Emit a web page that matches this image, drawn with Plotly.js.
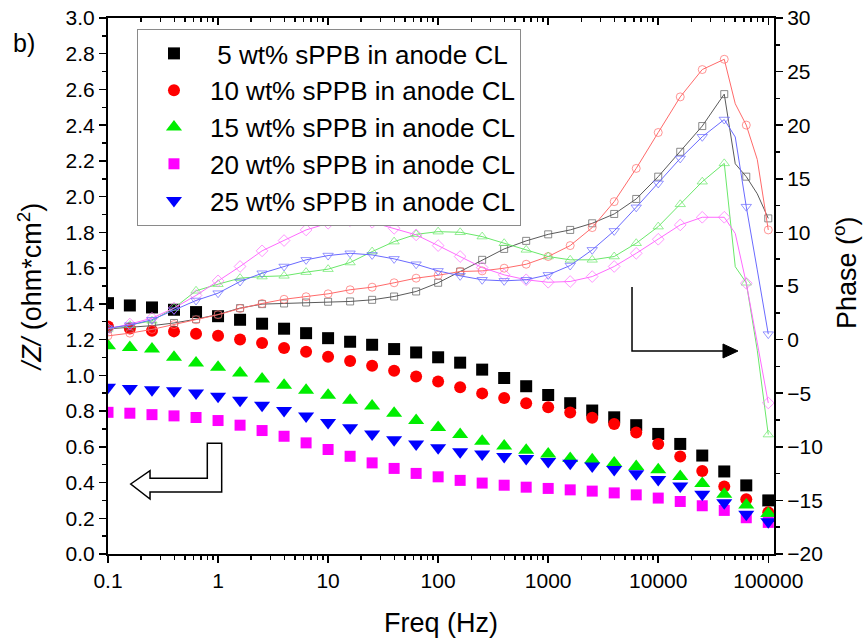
<!DOCTYPE html>
<html>
<head>
<meta charset="utf-8">
<script src="https://cdn.plot.ly/plotly-3.0.1.min.js"></script>
<style>html,body{margin:0;padding:0;background:#fff;}#chart{width:865px;height:640px;}</style>
</head>
<body>
<div id="chart"></div>
<script>
// Frequencies (Hz) with markers
const freq = [0.1, 0.158, 0.251, 0.398, 0.631, 1, 1.585, 2.512, 3.981, 6.31, 10, 15.85, 25.12, 39.81, 63.1, 100,
  158.5, 251.2, 398.1, 631, 1000, 1585, 2512, 3981, 6310, 10000, 15849, 25119, 39811, 63096, 100000];
// Phase data also has unmarked points at 50119 and 79433 Hz
const phaseFreq = [0.1, 0.158, 0.251, 0.398, 0.631, 1, 1.585, 2.512, 3.981, 6.31, 10, 15.85, 25.12, 39.81, 63.1, 100,
  158.5, 251.2, 398.1, 631, 1000, 1585, 2512, 3981, 6310, 10000, 15849, 25119, 39811, 50119, 63096, 79433, 100000];

const seriesNames = [
  "\u00a05 wt% sPPB in anode CL",
  "10 wt% sPPB in anode CL",
  "15 wt% sPPB in anode CL",
  "20 wt% sPPB in anode CL",
  "25 wt% sPPB in anode CL"
];

// |Z| (ohm*cm2)
const z5  = [1.404,1.391,1.380,1.367,1.354,1.331,1.311,1.289,1.261,1.236,1.208,1.188,1.171,1.147,1.128,1.101,
  1.071,1.032,0.985,0.939,0.890,0.844,0.803,0.765,0.721,0.672,0.616,0.551,0.462,0.384,0.300];
const z10 = [1.274,1.262,1.250,1.246,1.233,1.222,1.201,1.181,1.153,1.132,1.104,1.080,1.054,1.026,0.993,0.965,
  0.933,0.899,0.873,0.844,0.821,0.792,0.762,0.728,0.680,0.616,0.546,0.464,0.378,0.306,0.233];
const z15 = [1.166,1.156,1.147,1.101,1.069,1.045,1.013,0.979,0.944,0.916,0.888,0.860,0.829,0.788,0.747,0.708,
  0.669,0.631,0.605,0.581,0.560,0.535,0.527,0.510,0.490,0.471,0.434,0.395,0.334,0.274,0.227];
const z20 = [0.793,0.788,0.780,0.773,0.764,0.747,0.721,0.691,0.659,0.622,0.585,0.547,0.510,0.479,0.451,0.432,
  0.412,0.397,0.385,0.374,0.367,0.359,0.352,0.342,0.331,0.313,0.294,0.270,0.244,0.203,0.177];
const z25 = [0.933,0.926,0.920,0.914,0.901,0.883,0.860,0.832,0.803,0.773,0.736,0.706,0.672,0.639,0.616,0.594,
  0.572,0.560,0.546,0.535,0.518,0.508,0.492,0.473,0.449,0.417,0.380,0.334,0.287,0.222,0.181];

// Phase (deg)
const p5  = [1.0,1.15,1.3,1.55,1.9,2.35,2.94,3.31,3.37,3.46,3.53,3.56,3.71,4.02,4.49,5.3,
  6.35,7.44,8.46,9.21,9.82,10.23,10.85,11.72,13.12,15.20,17.52,19.92,22.90,16.4,15.20,13.6,11.31];
const p10 = [0.35,0.6,0.95,1.4,1.85,2.32,2.9,3.37,3.76,4.0,4.27,4.65,4.89,5.3,5.73,6.0,
  6.35,6.41,6.66,7.03,7.75,8.77,10.45,12.87,15.97,19.32,22.64,25.19,26.15,22.0,20.01,16.8,10.23];
const p15 = [1.0,1.35,1.75,2.94,4.55,5.17,5.73,5.88,5.95,6.29,6.57,7.19,8.21,9.14,9.82,10.07,
  10.01,9.61,8.99,8.37,7.75,7.44,7.44,7.75,8.99,10.54,12.62,14.73,16.44,6.8,5.3,-1.0,-8.86];
const p20 = [1.0,1.45,2.0,2.94,4.12,5.48,6.82,8.28,9.24,10.23,10.85,11.10,10.94,10.38,9.77,8.77,
  7.75,6.72,6.04,5.58,5.35,5.42,5.88,6.82,8.05,9.36,10.70,11.41,11.41,9.9,5.26,-0.3,-5.91];
const p25 = [1.07,1.35,1.85,2.75,3.65,4.33,5.42,6.19,6.82,7.44,7.84,8.05,7.90,7.53,7.03,6.41,
  5.95,5.58,5.48,5.58,6.04,6.91,8.37,10.14,12.34,14.57,16.90,18.92,20.53,18.9,12.40,6.5,0.51];

const zSeries = [z5, z10, z15, z20, z25];
const pSeries = [p5, p10, p15, p20, p25];
const fillColors = ["#000000", "#ff0000", "#00ee00", "#ff00ff", "#0000ff"];
const lineColors = ["#5a5a5a", "#ff6a6a", "#6ae86a", "#ff6aff", "#6a6aff"];
const fillSymbols = ["square", "circle", "triangle-up", "square", "triangle-down"];
const fillSizes = [12, 12, 14, 11, 14];
const openSymbols = ["square-open", "circle-open", "triangle-up-open", "diamond-open", "triangle-down-open"];
const openSizes = [7, 8, 9, 9, 9];

const traces = [];
for (let i = 0; i < 5; i++) {
  traces.push({
    x: freq, y: zSeries[i], type: "scatter", mode: "markers", name: seriesNames[i],
    xaxis: "x", yaxis: "y",
    marker: {symbol: fillSymbols[i], size: fillSizes[i], color: fillColors[i], line: {width: 0}}
  });
}
for (let i = 0; i < 5; i++) {
  const sizes = phaseFreq.map(f => freq.includes(f) ? openSizes[i] : 0);
  traces.push({
    x: phaseFreq, y: pSeries[i], type: "scatter", mode: "lines+markers", showlegend: false,
    xaxis: "x2", yaxis: "y2",
    line: {color: lineColors[i], width: 1},
    marker: {symbol: openSymbols[i], size: sizes, color: lineColors[i], line: {width: 1, color: lineColors[i]}}
  });
}

const minorX = [];
for (let d = -1; d <= 4; d++) for (let k = 2; k <= 9; k++) minorX.push(k * Math.pow(10, d));
const majorX = [0.1, 1, 10, 100, 1000, 10000, 100000];
const majorXText = ["0.1", "1", "10", "100", "1000", "10000", "100000"];

const fontFam = "Liberation Sans, Arial, sans-serif";
const xRange = [-1, 5.052];

const layout = {
  width: 865, height: 640,
  margin: {l: 108, r: 91, t: 18, b: 86},
  paper_bgcolor: "#fff", plot_bgcolor: "#fff",
  font: {family: fontFam, color: "#000", size: 21},
  showlegend: true,
  legend: {
    x: 0.0435, y: 0.9795, xanchor: "left", yanchor: "top",
    bordercolor: "#8a8a8a", borderwidth: 1, bgcolor: "#fff",
    font: {size: 26, family: fontFam, color: "#000"},
    itemwidth: 62, tracegroupgap: 0
  },
  xaxis: {
    type: "log", range: xRange, showgrid: false, zeroline: false,
    showline: true, linewidth: 2, linecolor: "#000",
    ticks: "outside", ticklen: 7, tickwidth: 1.5, tickcolor: "#000",
    tickmode: "array", tickvals: majorX, ticktext: majorXText,
    tickfont: {size: 21},
    minor: {tickmode: "array", tickvals: minorX, ticks: "outside", ticklen: 4, tickwidth: 1.5, tickcolor: "#000", showgrid: false},
    title: {text: "Freq (Hz)", font: {size: 27}, standoff: 22},
    automargin: false
  },
  xaxis2: {
    type: "log", range: xRange, matches: "x", overlaying: "x", side: "top", anchor: "y2",
    showgrid: false, zeroline: false, showline: true, linewidth: 2, linecolor: "#000",
    ticks: "inside", ticklen: 7, tickwidth: 1.5, tickcolor: "#000",
    tickmode: "array", tickvals: majorX, showticklabels: false,
    minor: {tickmode: "array", tickvals: minorX, ticks: "inside", ticklen: 4, tickwidth: 1.5, tickcolor: "#000", showgrid: false},
    automargin: false
  },
  yaxis: {
    range: [0, 3], showgrid: false, zeroline: false,
    showline: true, linewidth: 2, linecolor: "#000",
    ticks: "outside", ticklen: 7, tickwidth: 1.5, tickcolor: "#000",
    dtick: 0.2, tick0: 0, tickformat: ".1f", tickfont: {size: 21},
    minor: {dtick: 0.1, ticks: "outside", ticklen: 4, tickwidth: 1.5, tickcolor: "#000", showgrid: false},
    title: {text: "<i>/Z/</i> (ohm*cm<sup>2</sup>)", font: {size: 27}, standoff: 16},
    automargin: false
  },
  yaxis2: {
    range: [-20, 30], overlaying: "y", side: "right", anchor: "x2",
    showgrid: false, zeroline: false,
    showline: true, linewidth: 2, linecolor: "#000",
    ticks: "outside", ticklen: 7, tickwidth: 1.5, tickcolor: "#000",
    dtick: 5, tick0: 0, tickfont: {size: 21},
    minor: {dtick: 2.5, ticks: "outside", ticklen: 4, tickwidth: 1.5, tickcolor: "#000", showgrid: false},
    automargin: false
  },
  shapes: [
    {type: "path", xref: "paper", yref: "paper",
     path: "M 0.0341 0.1306 L 0.0631 0.1554 L 0.0631 0.1412 L 0.1491 0.1412 L 0.1491 0.2065 L 0.1707 0.2065 L 0.1707 0.1157 L 0.0631 0.1157 L 0.0631 0.1026 Z",
     line: {color: "#000", width: 1.5}, fillcolor: "rgba(255,255,255,0)"},
    {type: "path", xref: "paper", yref: "paper",
     path: "M 0.7868 0.4981 L 0.7868 0.3787 L 0.9234 0.3787",
     line: {color: "#000", width: 1.5}},
    {type: "path", xref: "paper", yref: "paper",
     path: "M 0.9234 0.3918 L 0.9459 0.3787 L 0.9234 0.3657 Z",
     line: {color: "#000", width: 1}, fillcolor: "#000"}
  ],
  annotations: [
    {text: "b)", xref: "paper", yref: "paper", x: -0.126, y: 0.953, xanchor: "center", yanchor: "middle",
     showarrow: false, font: {size: 25, color: "#000"}},
    {text: "Phase (<sup>o</sup>)", xref: "paper", yref: "paper", x: 1.1066, y: 0.526, xanchor: "center", yanchor: "middle",
     textangle: -90, showarrow: false, font: {size: 27, color: "#000"}}
  ]
};

Plotly.newPlot("chart", traces, layout, {displayModeBar: false, staticPlot: true});
</script>
</body>
</html>
